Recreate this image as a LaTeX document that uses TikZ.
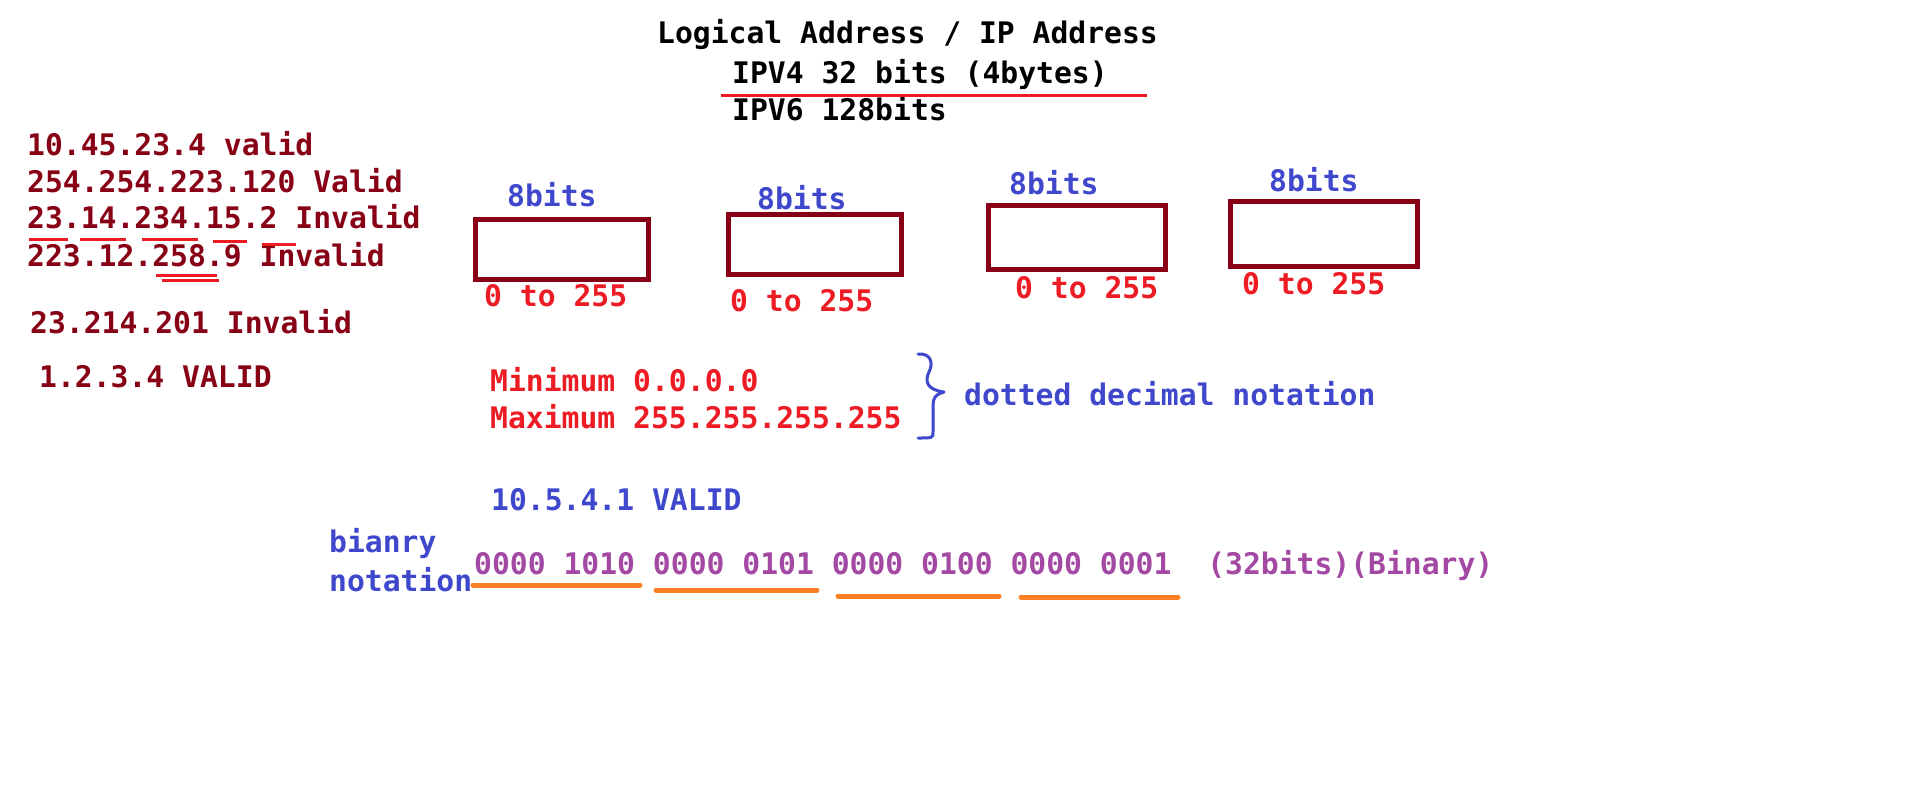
\documentclass[tikz,border=0pt]{standalone}
\usepackage{fontspec}
\newfontfamily\cf{DejaVu Sans Mono}
\definecolor{dred}{HTML}{880015}
\definecolor{pred}{HTML}{ED1C24}
\definecolor{pblue}{HTML}{3F48CC}
\definecolor{ppurple}{HTML}{A349A4}
\definecolor{porange}{HTML}{FF7F27}
\begin{document}
\begin{tikzpicture}[x=1pt,y=-1pt,
  txt/.style={anchor=base west, inner sep=0pt, font=\cf\bfseries\fontsize{29.7}{34}\selectfont},
  octet/.style={draw=dred, line width=5pt, inner sep=0pt, outer sep=0pt},
  redline/.style={draw=pred, line width=3pt},
  orline/.style={draw=porange, line width=5pt, line cap=round},
  bracestyle/.style={draw=pblue, line width=3pt, line cap=round, line join=round}]
\useasboundingbox[fill=white] (0,0) rectangle (1914,806);

% title
\node[txt, text=black] (title) at (657,43) {Logical Address / IP Address};
\node[txt, text=black] (ipv4) at (732,83) {IPV4 32 bits (4bytes)};
\node[txt, text=black] (ipv6) at (732,120) {IPV6 128bits};
\coordinate (t1) at (721,95);
\coordinate (t2) at (1147,95);
\draw[redline] (t1) -- (t2);

% left column
\node[txt, text=dred] (l1) at (27,155) {10.45.23.4 valid};
\node[txt, text=dred] (l2) at (27,192) {254.254.223.120 Valid};
\node[txt, text=dred] (l3) at (27,228) {23.14.234.15.2 Invalid};
\node[txt, text=dred] (l4) at (27,266) {223.12.258.9 Invalid};
\node[txt, text=dred] (l5) at (30,333) {23.214.201 Invalid};
\node[txt, text=dred] (l6) at (39,387) {1.2.3.4 VALID};

\draw[redline] (29,239) -- (68,239);
\draw[redline] (80,239) -- (126,239);
\draw[redline] (142,239) -- (198,239);
\draw[redline] (213,241) -- (247,241);
\draw[redline] (262,244) -- (296,244);
\draw[redline] (156,275) -- (217,275);
\draw[redline] (162,280) -- (219,280);

% octet boxes
\node[octet, minimum width=173pt, minimum height=60pt] (b1) at (561.5,249) {};
\node[octet, minimum width=173.5pt, minimum height=60pt] (b2) at (815,244.5) {};
\node[octet, minimum width=177pt, minimum height=64pt] (b3) at (1076.5,237.5) {};
\node[octet, minimum width=187pt, minimum height=65.5pt] (b4) at (1323.5,234) {};

\node[txt, text=pblue] (e1) at (507,206) {8bits};
\node[txt, text=pblue] (e2) at (757,209) {8bits};
\node[txt, text=pblue] (e3) at (1009,194) {8bits};
\node[txt, text=pblue] (e4) at (1269,191) {8bits};

\node[txt, text=pred] (r1) at (484,306) {0 to 255};
\node[txt, text=pred] (r2) at (730,311) {0 to 255};
\node[txt, text=pred] (r3) at (1015,298) {0 to 255};
\node[txt, text=pred] (r4) at (1242,294) {0 to 255};

% min / max
\node[txt, text=pred] (mn) at (490,391) {Minimum 0.0.0.0};
\node[txt, text=pred] (mx) at (490,428) {Maximum 255.255.255.255};
\draw[bracestyle] (918,354) .. controls (930,353) and (934,362) .. (929,372)
  .. controls (924,382) and (928,390) .. (944,392)
  .. controls (933,395) and (933,400) .. (933,410)
  -- (933,432) .. controls (933,438) .. (918,438);
\node[txt, text=pblue] (ddn) at (964,405) {dotted decimal notation};

% example
\node[txt, text=pblue] (ex) at (491,510) {10.5.4.1 VALID};
\node[txt, text=pblue] (bn1) at (329,552) {bianry};
\node[txt, text=pblue] (bn2) at (329,591) {notation};
\node[txt, text=ppurple] (bin) at (474,574) {0000 1010 0000 0101 0000 0100 0000 0001\ \ (32bits)(Binary)};

\draw[orline] (473,585) -- (640,585);
\draw[orline] (656,590) -- (817,590);
\draw[orline] (838,596) -- (999,596);
\draw[orline] (1021,597) -- (1178,597);
\end{tikzpicture}
\end{document}
